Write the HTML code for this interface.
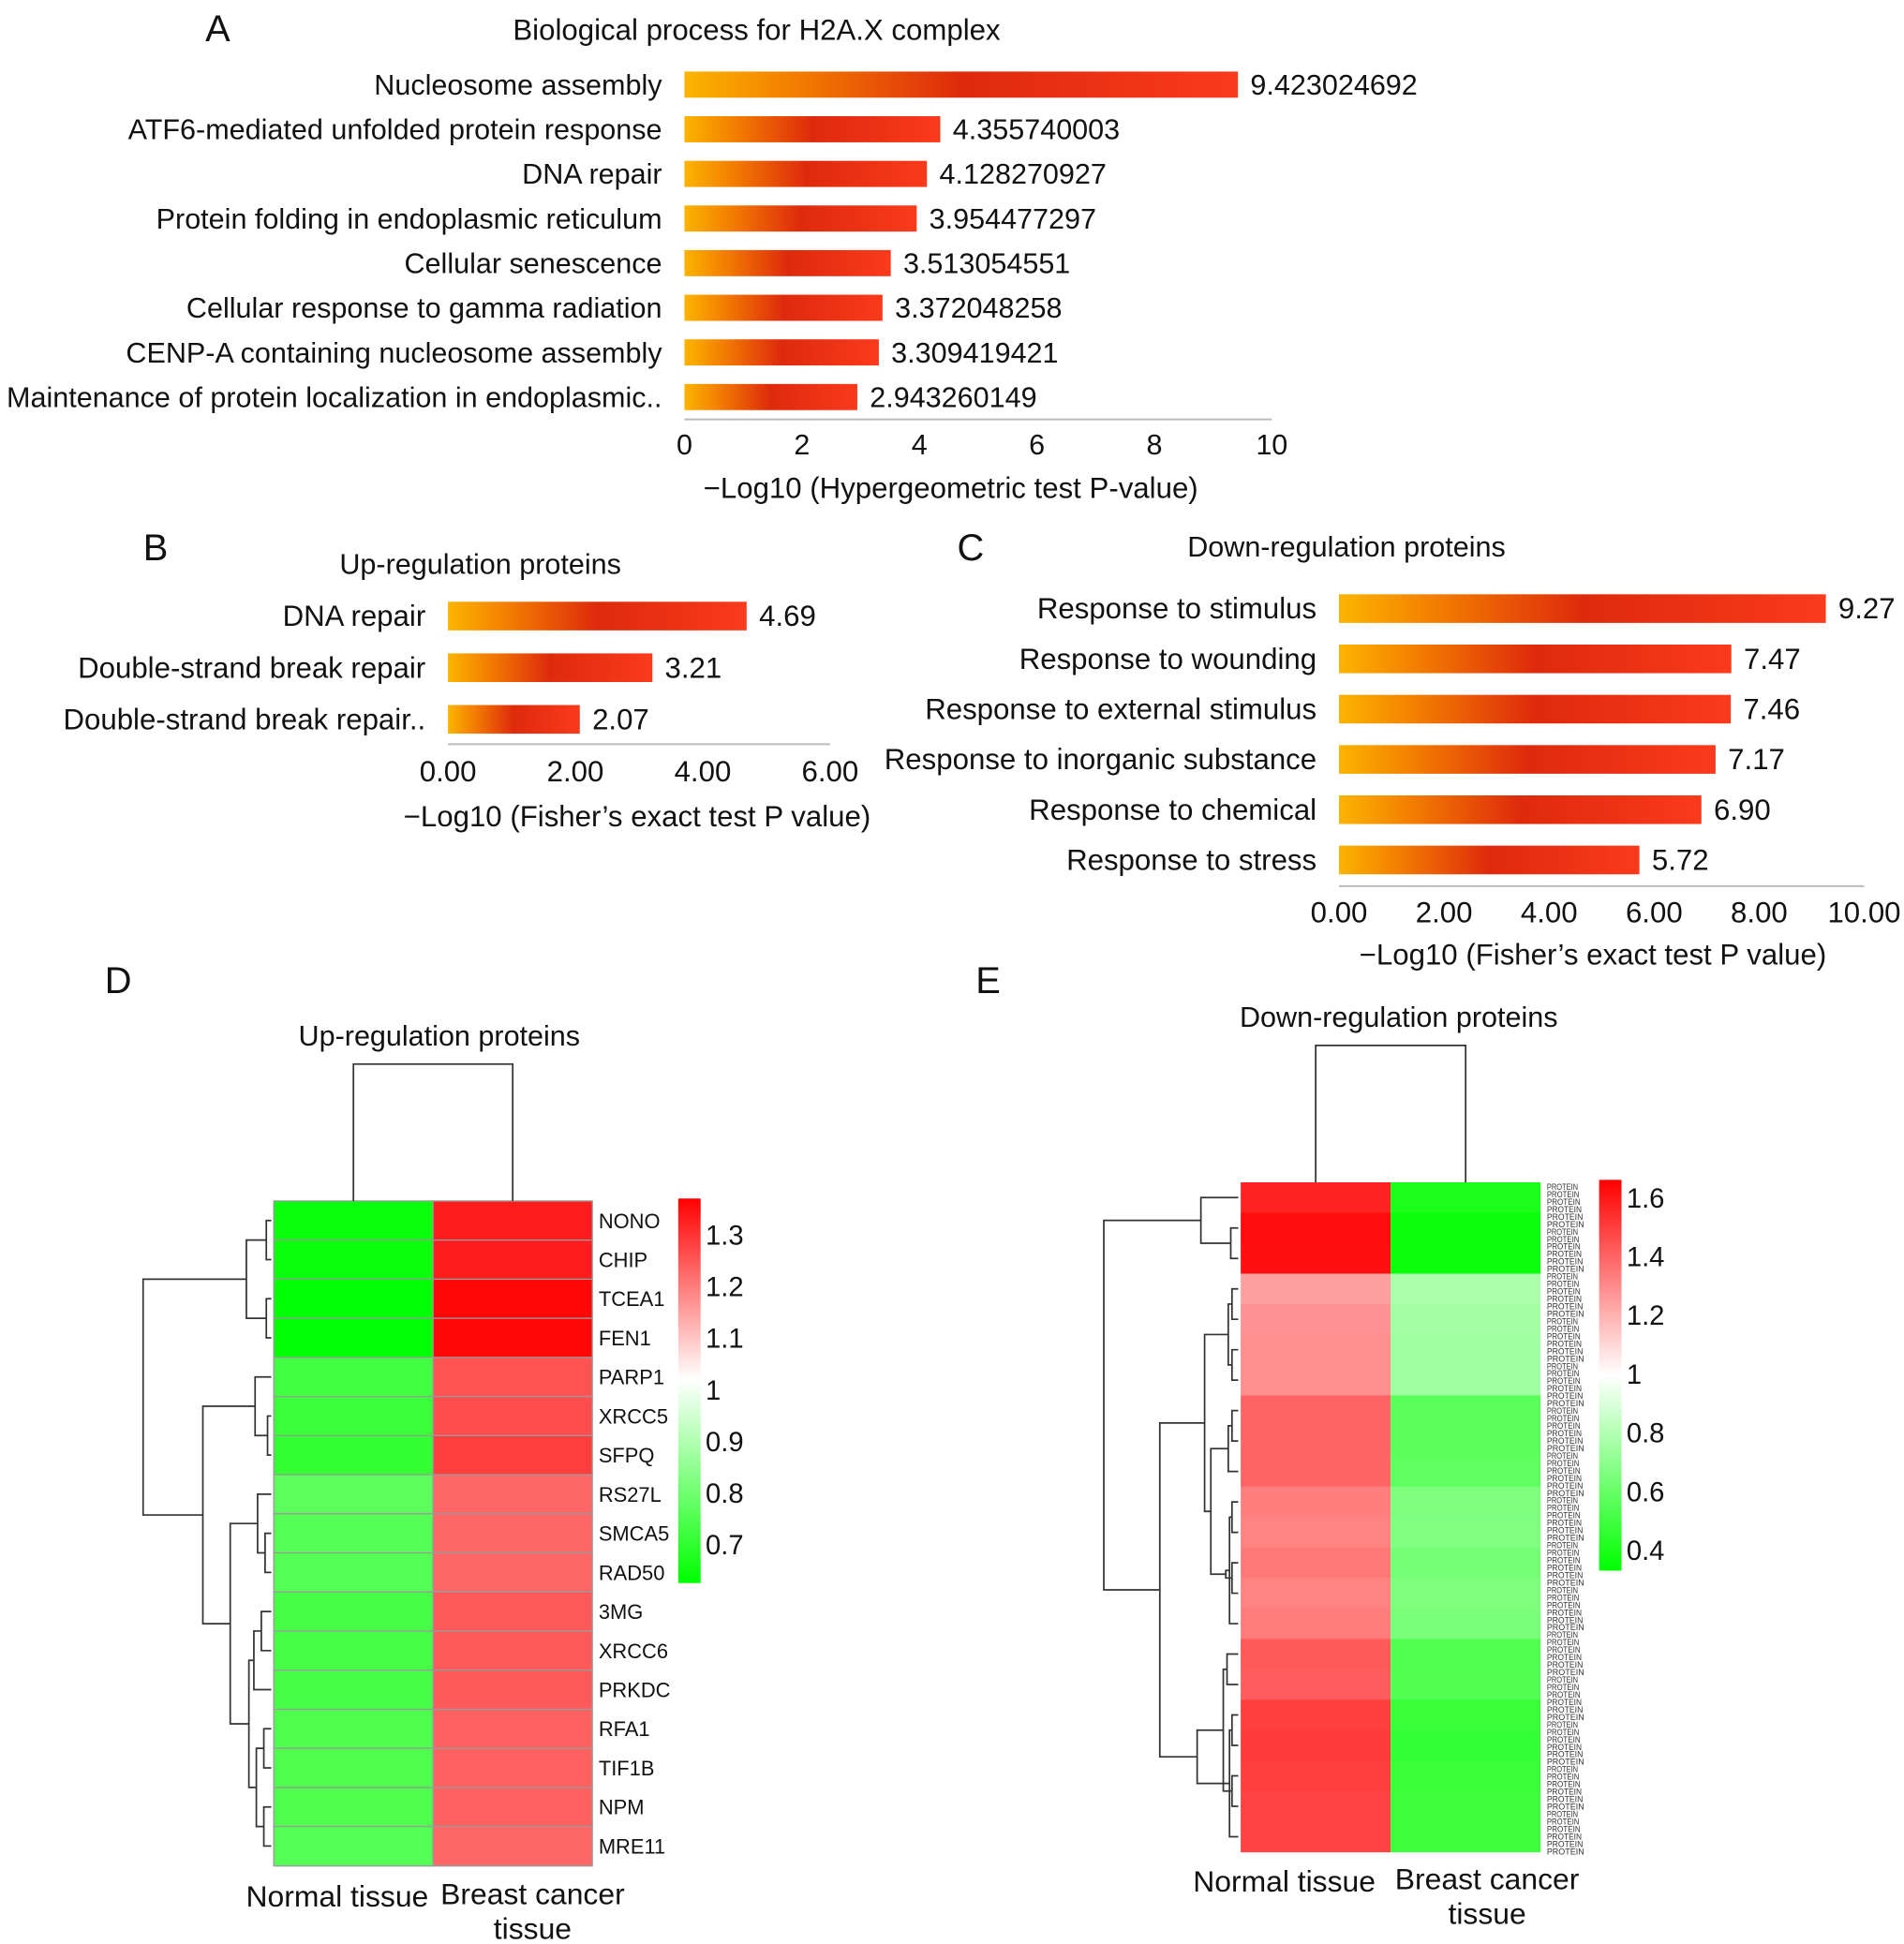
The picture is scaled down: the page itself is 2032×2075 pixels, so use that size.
<!DOCTYPE html>
<html><head><meta charset="utf-8"><style>
html,body{margin:0;padding:0;background:#fff;}
svg{display:block;font-family:"Liberation Sans",Arial,sans-serif;}
</style></head><body>
<svg id="fig" width="2032" height="2075" viewBox="0 0 1530 1562" preserveAspectRatio="none" xmlns="http://www.w3.org/2000/svg">
<defs>
<linearGradient id="gBar" x1="0" y1="0" x2="1" y2="0">
<stop offset="0" stop-color="#fbb400"/><stop offset="0.18" stop-color="#f48300"/><stop offset="0.5" stop-color="#de2a0c"/><stop offset="1" stop-color="#fb3a1c"/>
</linearGradient>
<linearGradient id="cbD" x1="0" y1="0" x2="0" y2="1">
<stop offset="0" stop-color="#ff0000"/><stop offset="0.47" stop-color="#ffffff"/><stop offset="1" stop-color="#00ff00"/>
</linearGradient>
<linearGradient id="cbE" x1="0" y1="0" x2="0" y2="1">
<stop offset="0" stop-color="#ff0000"/><stop offset="0.5" stop-color="#ffffff"/><stop offset="1" stop-color="#00ff00"/>
</linearGradient>
</defs>
<g id="root"></g>
</svg>
<script>
// ---- Panel A data ----
const aCats = ["Nucleosome assembly","ATF6-mediated unfolded protein response","DNA repair","Protein folding in endoplasmic reticulum","Cellular senescence","Cellular response to gamma radiation","CENP-A containing nucleosome assembly","Maintenance of protein localization in endoplasmic.."];
const aVals = [9.423024692,4.355740003,4.128270927,3.954477297,3.513054551,3.372048258,3.309419421,2.943260149];
const aTicks = [0,2,4,6,8,10];
// ---- Panel B data ----
const bCats = ["DNA repair","Double-strand break repair","Double-strand break repair.."];
const bVals = [4.69,3.21,2.07];
const bTicks = [0,2,4,6];
// ---- Panel C data ----
const cCats = ["Response to stimulus","Response to wounding","Response to external stimulus","Response to inorganic substance","Response to chemical","Response to stress"];
const cVals = [9.27,7.47,7.46,7.17,6.90,5.72];
const cTicks = [0,2,4,6,8,10];
// ---- Panel D data ----
const dGenes = ["NONO","CHIP","TCEA1","FEN1","PARP1","XRCC5","SFPQ","RS27L","SMCA5","RAD50","3MG","XRCC6","PRKDC","RFA1","TIF1B","NPM","MRE11"];
const dNormal = [0.64,0.64,0.63,0.63,0.72,0.71,0.70,0.76,0.75,0.75,0.73,0.73,0.73,0.74,0.74,0.74,0.75];
const dCancer = [1.33,1.33,1.36,1.36,1.25,1.26,1.28,1.22,1.22,1.22,1.24,1.24,1.24,1.23,1.23,1.23,1.22];
const dTicks = [1.3,1.2,1.1,1,0.9,0.8,0.7];
const dMerges = [[0,1,4],[2,3,4],[17,18,20],[5,6,3],[4,20,13],[8,9,5],[7,22,11],[10,11,8],[12,24,14],[13,14,6],[15,16,6],[26,27,12],[25,28,18],[23,29,33],[21,30,55],[19,31,103]];
// ---- Panel E data ----
const eNormal = [1.57,1.63,1.62,1.25,1.28,1.29,1.29,1.40,1.40,1.40,1.33,1.32,1.35,1.32,1.34,1.43,1.42,1.50,1.51,1.50,1.49,1.49];
const eCancer = [0.40,0.36,0.36,0.78,0.76,0.75,0.75,0.57,0.57,0.58,0.66,0.67,0.64,0.66,0.65,0.54,0.55,0.48,0.47,0.48,0.49,0.49];
const eTicks = [1.6,1.4,1.2,1,0.8,0.6,0.4];
const eMerges = [[1,2,6],[0,22,30],[3,4,5],[5,6,5],[24,25,8],[7,8,5],[27,9,8],[10,11,5],[12,13,5],[29,14,7],[30,31,10],[28,32,22],[26,33,27],[15,16,9],[17,18,5],[19,20,5],[36,21,7],[35,37,12],[38,39,33],[34,40,63],[23,41,108]];

const NS="http://www.w3.org/2000/svg";
const root=document.getElementById('root');
function el(tag,attrs,parent,text){const e=document.createElementNS(NS,tag);for(const k in attrs)e.setAttribute(k,attrs[k]);if(text!==undefined)e.textContent=text;(parent||root).appendChild(e);return e;}

function txt(x,y,s,size,anchor,parent,name){
  const t=el('text',{x:x,y:y,'font-size':size,'text-anchor':anchor||'start',fill:'#111'},parent,s);
  
  
  return t;
}

function barChart(id,cats,vals,ticks,o){
  const g=el('g',{});
  
  
  const sx=v=>o.x0+(v-ticks[0])/(ticks[ticks.length-1]-ticks[0])*(o.x1-o.x0);
  const sy=i=>o.y0+i*o.step;
  const ax=el('line',{x1:o.x0,x2:o.x1,y1:o.axisY,y2:o.axisY,stroke:'#bbb','stroke-width':1.5},g);
  
  
  ticks.forEach(t=>{txt(sx(t),o.tickY,o.fmtTick(t),o.fs,'middle',g,'x-tick-label');});
  cats.forEach((c,i)=>{
    txt(o.x0-18,sy(i)+8,c,o.fs,'end',g,'category-label');
    const r=el('rect',{x:sx(0),y:sy(i)-o.h/2,width:sx(vals[i])-sx(0),height:o.h,fill:'url(#gBar)'},g);
    
    
    txt(sx(vals[i])+10,sy(i)+8,o.fmtVal(vals[i]),o.fs,'start',g,'value-label');
  });
}

const FS=23.5;
// Panel A
txt(175,33,'A',30,'middle',null,'panel-a-letter');
txt(608,32,'Biological process for H2A.X complex',23.5,'middle',null,'panel-a-title');
barChart('chart-a',aCats,aVals,aTicks,{x0:550,x1:1022,y0:68,step:35.86,h:21,axisY:337,tickY:365,fs:23,fmtTick:t=>String(t),fmtVal:v=>String(v)});
txt(764,400,'\u2212Log10 (Hypergeometric test P-value)',FS,'middle',null,'x-axis-title-a');

// Panel B
txt(125,450,'B',30,'middle',null,'panel-b-letter');
txt(386,461,'Up-regulation proteins',23,'middle',null,'panel-b-title');
barChart('chart-b',bCats,bVals,bTicks,{x0:360,x1:667,y0:495,step:41.5,h:23,axisY:598,tickY:628,fs:FS,fmtTick:t=>t.toFixed(2),fmtVal:v=>v.toFixed(2)});
txt(512,664,'\u2212Log10 (Fisher\u2019s exact test P value)',FS,'middle',null,'x-axis-title-b');

// Panel C
txt(780,450,'C',30,'middle',null,'panel-c-letter');
txt(1082,447,'Down-regulation proteins',23,'middle',null,'panel-c-title');
barChart('chart-c',cCats,cVals,cTicks,{x0:1076,x1:1498,y0:489,step:40.4,h:23,axisY:712,tickY:741,fs:FS,fmtTick:t=>t.toFixed(2),fmtVal:v=>v.toFixed(2)});
txt(1280,775,'\u2212Log10 (Fisher\u2019s exact test P value)',FS,'middle',null,'x-axis-title-c');

function colorOf(v,max,min){
  let r,gg,b;
  if(v>=1){const t=Math.min(1,(v-1)/(max-1));r=255;gg=Math.round(255*(1-t));b=gg;}
  else{const t=Math.min(1,(1-v)/(1-min));gg=255;r=Math.round(255*(1-t));b=r;}
  return `rgb(${r},${gg},${b})`;
}

function dendro(merges,n,leafPos,baseX,g,name){
  const pos={},hx={};
  for(let i=0;i<n;i++){pos[i]=leafPos(i);hx[i]=0;}
  merges.forEach((m,k)=>{
    const id=n+k,a=m[0],b=m[1],h=m[2];
    const x=baseX-h;
    const p=el('path',{d:`M${baseX-hx[a]},${pos[a]}H${x}V${pos[b]}H${baseX-hx[b]}`,fill:'none',stroke:'#333','stroke-width':1.3},g);
    
    
    pos[id]=(pos[a]+pos[b])/2;hx[id]=h;
  });
}

function heatmap(o){
  const g=el('g',{});
  
  
  const n=o.normal.length;
  const rowH=(o.y1-o.y0)/n;
  const cw=(o.x1-o.x0)/2;
  const cols=[o.normal,o.cancer];
  cols.forEach((arr,c)=>arr.forEach((v,i)=>{
    const r=el('rect',{x:o.x0+c*cw,y:o.y0+i*rowH,width:cw,height:rowH+0.3,fill:colorOf(v,o.max,o.min),stroke:o.grid?'#999':'none','stroke-width':o.grid?1:0},g);
    
    
  }));
  const cd=el('path',{d:`M${o.x0+cw/2},${o.y0}V${o.colTop}H${o.x0+1.5*cw}V${o.y0}`,fill:'none',stroke:'#333','stroke-width':1.3},g);
  
  
  dendro(o.merges,n,i=>o.y0+(i+0.5)*rowH,o.x0-2,g,'row-dendrogram');
  const cb=el('rect',{x:o.cbx,y:o.cby0,width:18,height:o.cby1-o.cby0,fill:o.grad},g);
  
  
  const sy=v=>o.cby0+(o.max-v)/(o.max-o.min)*(o.cby1-o.cby0);
  o.ticks.forEach(t=>txt(o.cbx+22,sy(t)+8,String(t),22,'start',g,'colorbar-tick-label'));
  return {g,rowH};
}

// Panel D
txt(95,798,'D',30,'middle',null,'panel-d-letter');
txt(353,840,'Up-regulation proteins',23,'middle',null,'panel-d-title');
const hd=heatmap({name:'heatmap-d',normal:dNormal,cancer:dCancer,merges:dMerges,x0:220,x1:476,y0:965,y1:1499,colTop:855,max:1.37,min:0.625,ticks:dTicks,cbx:545,cby0:963,cby1:1272,grad:'url(#cbD)',grid:true});
dGenes.forEach((gname,i)=>txt(481,965+(i+0.5)*hd.rowH+6,gname,16.5,'start',hd.g,'row-label'));
txt(271,1532,'Normal tissue',24,'middle',null,'col-label-normal');
txt(428,1530,'Breast cancer',24,'middle',null,'col-label-cancer');
txt(428,1558,'tissue',24,'middle',null,'col-label-cancer-2');

// Panel E
txt(794,798,'E',30,'middle',null,'panel-e-letter');
txt(1124,825,'Down-regulation proteins',23,'middle',null,'panel-e-title');
const he=heatmap({name:'heatmap-e',normal:eNormal,cancer:eCancer,merges:eMerges,x0:997,x1:1238,y0:950,y1:1488,colTop:840,max:1.66,min:0.33,ticks:eTicks,cbx:1285,cby0:948,cby1:1262,grad:'url(#cbE)',grid:false});
for(let k=0;k<90;k++){
  const t=el('text',{x:1243,y:956+k*6,'font-size':7,fill:'#333',textLength:25+(k*7)%6,lengthAdjust:'spacingAndGlyphs'},he.g,'PROTEIN');
  
  
}
txt(1032,1520,'Normal tissue',24,'middle',null,'col-label-normal-e');
txt(1195,1518,'Breast cancer',24,'middle',null,'col-label-cancer-e');
txt(1195,1546,'tissue',24,'middle',null,'col-label-cancer-e-2');
</script>
</body></html>
